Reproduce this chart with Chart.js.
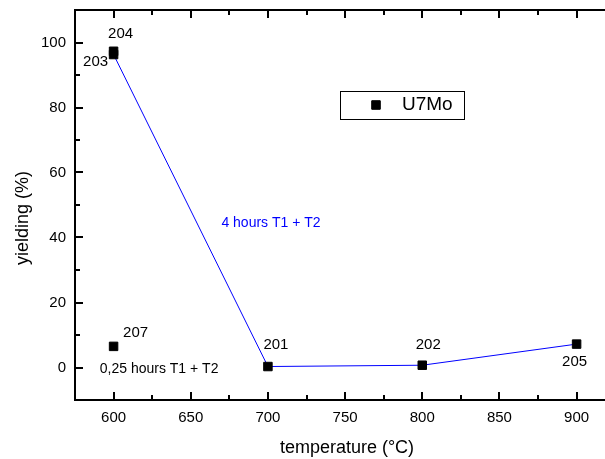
<!DOCTYPE html>
<html>
<head>
<meta charset="utf-8">
<script src="https://cdn.jsdelivr.net/npm/chart.js@4.4.0/dist/chart.umd.min.js"></script>
<style>
  html, body { margin: 0; padding: 0; background: #fff; }
  canvas { display: block; }
</style>
</head>
<body>
<canvas id="chart" width="605" height="459"></canvas>
<script>
const seriesName = 'U7Mo';

// samples joined by the blue line (4 hours T1 + T2)
const lineTemps = [600, 700, 800, 900];
const lineYield = [96.3, 0.3, 0.7, 7.2];
const lineIds = ['203', '201', '202', '205'];

// samples shown without a line
const looseTemps = [600, 600];
const looseYield = [97.3, 6.5];
const looseIds = ['204', '207'];

const xTickValues = [600, 650, 700, 750, 800, 850, 900];
const yTickValues = [0, 20, 40, 60, 80, 100];

const xTitle = 'temperature (°C)';
const yTitle = 'yielding (%)';
const noteTexts = ['4 hours T1 + T2', '0,25 hours T1 + T2'];

const FONT = '"Liberation Sans", Arial, sans-serif';

const toPoints = (xs, ys) => xs.map((x, i) => ({ x, y: ys[i] }));

// inward ticks on bottom, top and left, plus the top frame line
const frameTicks = {
  id: 'frameTicks',
  afterDraw(chart) {
    const { ctx, chartArea: a, scales: { x, y } } = chart;
    ctx.save();
    ctx.strokeStyle = '#000';
    ctx.lineWidth = 2;
    ctx.beginPath();
    ctx.moveTo(a.left - 1, a.top);
    ctx.lineTo(a.right, a.top);
    ctx.stroke();

    const minorVals = (scale, majors) => {
      const step = majors[1] - majors[0];
      const out = [];
      for (let v = majors[0] - step; v <= scale.max; v += step / 2) {
        if (v >= scale.min && v <= scale.max) out.push(v);
      }
      return out;
    };

    minorVals(x, xTickValues).forEach((v) => {
      const len = xTickValues.includes(v) ? 8 : 5;
      const px = Math.round(x.getPixelForValue(v));
      ctx.beginPath();
      ctx.moveTo(px, a.bottom);
      ctx.lineTo(px, a.bottom - len);
      ctx.moveTo(px, a.top);
      ctx.lineTo(px, a.top + len);
      ctx.stroke();
    });
    minorVals(y, yTickValues).forEach((v) => {
      const len = yTickValues.includes(v) ? 8 : 5;
      const py = Math.round(y.getPixelForValue(v));
      ctx.beginPath();
      ctx.moveTo(a.left, py);
      ctx.lineTo(a.left + len, py);
      ctx.stroke();
    });
    ctx.restore();
  },
};

// axis titles, a little off-centre like the original
const axisTitles = {
  id: 'axisTitles',
  afterDraw(chart, args, opts) {
    const { ctx, chartArea: a } = chart;
    ctx.save();
    ctx.font = `18px ${FONT}`;
    ctx.fillStyle = '#000';
    ctx.textAlign = 'center';
    ctx.textBaseline = 'middle';
    ctx.fillText(xTitle, (a.left + a.right) / 2 + opts.xShift, opts.xTitleY);
    ctx.translate(opts.yTitleX, (a.top + a.bottom) / 2 + opts.yShift);
    ctx.rotate(-Math.PI / 2);
    ctx.fillText(yTitle, 0, 0);
    ctx.restore();
  },
};

const pointLabels = {
  id: 'pointLabels',
  afterDatasetsDraw(chart, args, opts) {
    const { ctx } = chart;
    ctx.save();
    ctx.font = `15px ${FONT}`;
    ctx.fillStyle = '#000';
    ctx.textAlign = 'center';
    ctx.textBaseline = 'middle';
    chart.data.datasets.forEach((ds, di) => {
      const meta = chart.getDatasetMeta(di);
      meta.data.forEach((pt, i) => {
        const id = ds.ids[i];
        const [dx, dy] = opts.offsets[id];
        ctx.fillText(id, pt.x + dx, pt.y + dy);
      });
    });
    ctx.restore();
  },
};

const notes = {
  id: 'notes',
  afterDatasetsDraw(chart, args, opts) {
    const { ctx, scales: { x, y } } = chart;
    ctx.save();
    ctx.font = `14px ${FONT}`;
    ctx.textAlign = 'center';
    ctx.textBaseline = 'middle';
    opts.items.forEach((n, i) => {
      ctx.fillStyle = n.color;
      ctx.fillText(noteTexts[i], x.getPixelForValue(n.x), y.getPixelForValue(n.y));
    });
    ctx.restore();
  },
};

const boxLegend = {
  id: 'boxLegend',
  afterDraw(chart, args, opts) {
    const { ctx } = chart;
    const ds = chart.data.datasets[0];
    ctx.save();
    ctx.strokeStyle = '#000';
    ctx.lineWidth = 1;
    ctx.strokeRect(opts.left + 0.5, opts.top + 0.5, opts.width, opts.height);
    const cy = opts.top + opts.height / 2;
    Chart.helpers.drawPoint(ctx, {
      pointStyle: 'rect',
      radius: ds.pointRadius,
      borderWidth: ds.pointBorderWidth,
    }, opts.left + 36, cy);
    ctx.fillStyle = '#000';
    ctx.fill();
    ctx.font = `19px ${FONT}`;
    ctx.textAlign = 'left';
    ctx.textBaseline = 'middle';
    ctx.fillText(ds.label, opts.left + 62, cy);
    ctx.restore();
  },
};

const markerStyle = {
  pointStyle: 'rect',
  pointRadius: 6,
  pointBorderWidth: 1,
  pointBackgroundColor: '#000',
  pointBorderColor: '#000',
};

new Chart(document.getElementById('chart'), {
  type: 'scatter',
  data: {
    datasets: [
      {
        label: seriesName,
        data: toPoints(lineTemps, lineYield),
        ids: lineIds,
        showLine: true,
        borderColor: '#0000ff',
        borderWidth: 1,
        ...markerStyle,
      },
      {
        label: seriesName,
        data: toPoints(looseTemps, looseYield),
        ids: looseIds,
        showLine: false,
        ...markerStyle,
      },
    ],
  },
  options: {
    responsive: false,
    animation: false,
    layout: { autoPadding: false, padding: { top: 10, right: 0, bottom: 0, left: 0 } },
    scales: {
      x: {
        type: 'linear',
        min: 575,
        max: 918.4,
        grid: { display: false, drawTicks: false },
        border: { display: true, color: '#000', width: 2 },
        afterBuildTicks: (scale) => { scale.ticks = xTickValues.map((value) => ({ value })); },
        afterFit: (scale) => {
          scale.height = 59;
          scale.paddingLeft = 0;
          scale.paddingRight = 0;
        },
        ticks: { color: '#000', padding: 9, maxRotation: 0, font: { size: 15, family: FONT } },
      },
      y: {
        type: 'linear',
        min: -10,
        max: 110,
        grid: { display: false, drawTicks: false },
        border: { display: true, color: '#000', width: 2 },
        afterBuildTicks: (scale) => { scale.ticks = yTickValues.map((value) => ({ value })); },
        afterFit: (scale) => {
          scale.width = 75;
          scale.paddingTop = 0;
          scale.paddingBottom = 0;
        },
        ticks: { color: '#000', padding: 9, font: { size: 15, family: FONT } },
      },
    },
    plugins: {
      legend: { display: false },
      tooltip: { enabled: false },
      axisTitles: { xShift: 7, xTitleY: 448, yTitleX: 23, yShift: 13 },
      pointLabels: {
        offsets: {
          204: [7, -17], 203: [-18, 7], 207: [22, -14],
          201: [8, -22], 202: [6, -20.5], 205: [-2, 18],
        },
      },
      notes: {
        items: [
          { x: 702, y: 44.4, color: '#0000ff' },
          { x: 629.5, y: -0.6, color: '#000' },
        ],
      },
      boxLegend: { left: 340, top: 91, width: 124, height: 28 },
    },
  },
  plugins: [frameTicks, axisTitles, pointLabels, notes, boxLegend],
});
</script>
</body>
</html>
